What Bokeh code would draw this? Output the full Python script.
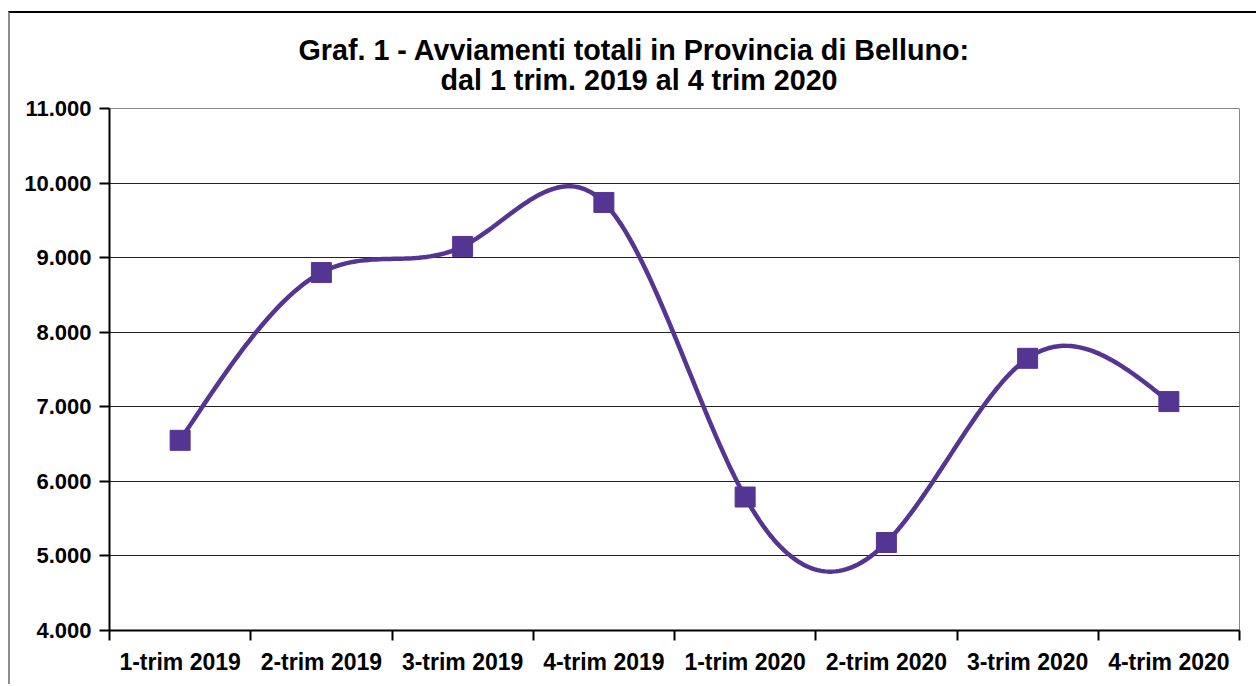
import numpy as np
from bokeh.plotting import figure
from bokeh.models import FixedTicker, Title, Range1d
from bokeh.embed import file_html
from bokeh.resources import INLINE

categories = ["1-trim 2019", "2-trim 2019", "3-trim 2019", "4-trim 2019",
              "1-trim 2020", "2-trim 2020", "3-trim 2020", "4-trim 2020"]
values = [6550, 8800, 9150, 9740, 5790, 5180, 7650, 7070]
y_ticks = [4000, 5000, 6000, 7000, 8000, 9000, 10000, 11000]
y_tick_labels = ["4.000", "5.000", "6.000", "7.000", "8.000", "9.000", "10.000", "11.000"]
title_lines = ["Graf. 1 - Avviamenti totali in Provincia di Belluno:",
               "dal 1 trim. 2019 al 4 trim 2020"]

COLOR = "#553592"
FONT = "Liberation Sans"

xs = np.arange(len(values)) + 0.5
ys = np.array(values, dtype=float)

# natural cubic spline (smoothed line style of the chart)
n = len(xs)
h = np.diff(xs)
A = np.zeros((n, n))
r = np.zeros(n)
A[0, 0] = 1
A[-1, -1] = 1
for i in range(1, n - 1):
    A[i, i - 1] = h[i - 1]
    A[i, i] = 2 * (h[i - 1] + h[i])
    A[i, i + 1] = h[i]
    r[i] = 6 * ((ys[i + 1] - ys[i]) / h[i] - (ys[i] - ys[i - 1]) / h[i - 1])
M = np.linalg.solve(A, r)
sx, sy = [], []
for i in range(n - 1):
    t = np.linspace(0, 1, 40)
    a, b = ys[i], ys[i + 1]
    yy = (1 - t) * a + t * b + (h[i] ** 2 / 6) * (((1 - t) ** 3 - (1 - t)) * M[i] + (t ** 3 - t) * M[i + 1])
    sx.extend(list(xs[i] + t * h[i]))
    sy.extend(list(yy))

p = figure(width=1248, height=673, output_backend="svg", toolbar_location=None,
           x_range=Range1d(0, len(categories)), y_range=Range1d(4000, 11000),
           min_border_left=99, min_border_right=19, min_border_top=95, min_border_bottom=56)
p.styles = {"margin-left": "8px", "margin-top": "11px",
            "border-left": "2px solid #8c8c8c", "border-top": "2px solid #000000"}
p.background_fill_color = "white"
p.border_fill_color = "white"
p.outline_line_color = "#888888"
p.outline_line_width = 1

# axes
p.xaxis.ticker = FixedTicker(ticks=list(xs), minor_ticks=list(range(len(categories) + 1)))
p.xaxis.major_label_overrides = {float(x): c for x, c in zip(xs, categories)}
p.xaxis.major_tick_line_color = None
p.xaxis.major_tick_out = 0
p.xaxis.major_tick_in = 0
p.xaxis.minor_tick_line_color = "black"
p.xaxis.minor_tick_line_width = 2
p.xaxis.minor_tick_out = 10
p.xaxis.minor_tick_in = 0
p.xaxis.axis_line_width = 2
p.xaxis.axis_line_color = "black"
p.xaxis.major_label_text_font = FONT
p.xaxis.major_label_text_font_style = "bold"
p.xaxis.major_label_text_font_size = "23px"
p.xaxis.major_label_text_color = "black"
p.xaxis.major_label_standoff = 8

p.yaxis.ticker = FixedTicker(ticks=y_ticks, minor_ticks=[])
p.yaxis.major_label_overrides = {t: l for t, l in zip(y_ticks, y_tick_labels)}
p.yaxis.major_tick_out = 10
p.yaxis.major_tick_in = 0
p.yaxis.major_tick_line_width = 2
p.yaxis.axis_line_width = 2
p.yaxis.axis_line_color = "black"
p.yaxis.major_label_text_font = FONT
p.yaxis.major_label_text_font_style = "bold"
p.yaxis.major_label_text_font_size = "22px"
p.yaxis.major_label_text_color = "black"
p.yaxis.major_label_standoff = 8

p.xgrid.grid_line_color = None
p.ygrid.ticker = FixedTicker(ticks=y_ticks)
p.ygrid.grid_line_color = "#222222"
p.ygrid.grid_line_width = 1

p.line(sx, sy, line_color=COLOR, line_width=4.5)
p.scatter(xs, ys, marker="square", size=20, fill_color=COLOR, line_color=COLOR)

# titles: added bottom line first (closest to the frame)
for txt, off, so in [(title_lines[1], 331, 26), (title_lines[0], 189, -34)]:
    p.add_layout(Title(text=txt, align="left", offset=off, standoff=so,
                       text_font=FONT, text_font_style="bold", text_font_size="28.7px",
                       text_color="black"), "above")

open("out.html", "w").write(file_html(p, INLINE))
